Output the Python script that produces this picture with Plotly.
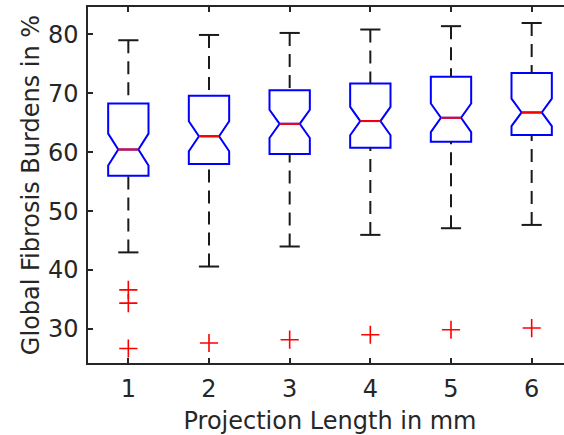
import plotly.graph_objects as go

# ---- data ----
positions = [1, 2, 3, 4, 5, 6]
tick_labels = ["1", "2", "3", "4", "5", "6"]
q1 = [56.0, 58.0, 59.7, 60.75, 61.75, 62.9]
median = [60.45, 62.7, 64.8, 65.27, 65.83, 66.74]
q3 = [68.27, 69.55, 70.52, 71.65, 72.77, 73.44]
lower_whisker = [43.0, 40.6, 44.0, 45.97, 47.1, 47.66]
upper_whisker = [78.98, 79.88, 80.22, 80.8, 81.37, 81.91]
notch_span = [2.7, 2.55, 2.4, 2.4, 2.42, 2.33]
outlier_x = [1, 1, 1, 2, 3, 4, 5, 6]
outlier_y = [36.65, 34.4, 26.7, 27.63, 28.19, 29.03, 29.88, 30.17]

# ---- style ----
BOX_W = 0.5
CAP_W = 0.25
AX = "#262626"
FONT = "DejaVu Sans"

fig = go.Figure()

# whiskers (dashed) from box edge to whisker end
wx, wy = [], []
for p, a, b, c, d in zip(positions, lower_whisker, q1, q3, upper_whisker):
    wx += [p, p, None, p, p, None]
    wy += [d, c, None, a, b, None]
fig.add_trace(go.Scatter(x=wx, y=wy, mode="lines", hoverinfo="skip",
                         line=dict(color="#1a1a1a", width=2, dash="13px,8px"),
                         showlegend=False))
# whisker caps
cx, cy = [], []
for p, a, d in zip(positions, lower_whisker, upper_whisker):
    cx += [p - CAP_W / 2, p + CAP_W / 2, None, p - CAP_W / 2, p + CAP_W / 2, None]
    cy += [a, a, None, d, d, None]
fig.add_trace(go.Scatter(x=cx, y=cy, mode="lines", hoverinfo="skip",
                         line=dict(color="#1a1a1a", width=2),
                         showlegend=False))

# notched boxes
fig.add_trace(go.Box(x=positions, q1=q1, median=median, q3=q3,
                     lowerfence=q1, upperfence=q3, notchspan=notch_span,
                     notched=True, notchwidth=0.25, width=BOX_W, whiskerwidth=0,
                     boxpoints=False, line=dict(color="#0000ff", width=2),
                     fillcolor="rgba(0,0,0,0)", showlegend=False, hoverinfo="skip"))

# red median lines (span the notch waist)
mx, my = [], []
for p, m in zip(positions, median):
    mx += [p - BOX_W / 4, p + BOX_W / 4, None]
    my += [m, m, None]
fig.add_trace(go.Scatter(x=mx, y=my, mode="lines", hoverinfo="skip",
                         line=dict(color="#ff0000", width=2), showlegend=False))

# outliers
fig.add_trace(go.Scatter(x=outlier_x, y=outlier_y, mode="markers", hoverinfo="skip",
                         marker=dict(symbol="cross-thin", size=13,
                                     line=dict(color="#ff0000", width=1.6)),
                         showlegend=False))

# The figure is slightly larger than the window: the right and bottom edges
# fall outside the visible area, as in the (cropped) reference.
fig.update_layout(
    width=572, height=445,
    margin=dict(l=88, r=0, t=7, b=82),
    paper_bgcolor="white", plot_bgcolor="white",
    font=dict(family=FONT, size=24, color=AX),
    showlegend=False,
)
fig.update_xaxes(range=[0.5, 6.5], tickmode="array", tickvals=positions,
                 ticktext=tick_labels, ticks="inside", ticklen=5, tickwidth=1.5,
                 tickcolor=AX, showline=True, linecolor=AX, linewidth=1.5,
                 mirror="ticks", showgrid=False, zeroline=False, automargin=False,
                 ticklabelstandoff=3,
                 title=dict(text="Projection Length in mm", font=dict(size=24), standoff=11))
fig.update_yaxes(range=[24.24, 84.62], tickvals=[30, 40, 50, 60, 70, 80],
                 ticks="inside", ticklen=5, tickwidth=1.5, tickcolor=AX,
                 showline=True, linecolor=AX, linewidth=1.5, mirror="ticks",
                 showgrid=False, zeroline=False, automargin=False, ticklabelstandoff=3,
                 title=dict(text="Global Fibrosis Burdens in %", font=dict(size=24), standoff=2))

fig.write_html("out.html", config={"displayModeBar": False},
               post_script="document.body.style.margin='0';document.body.style.overflow='hidden';")
